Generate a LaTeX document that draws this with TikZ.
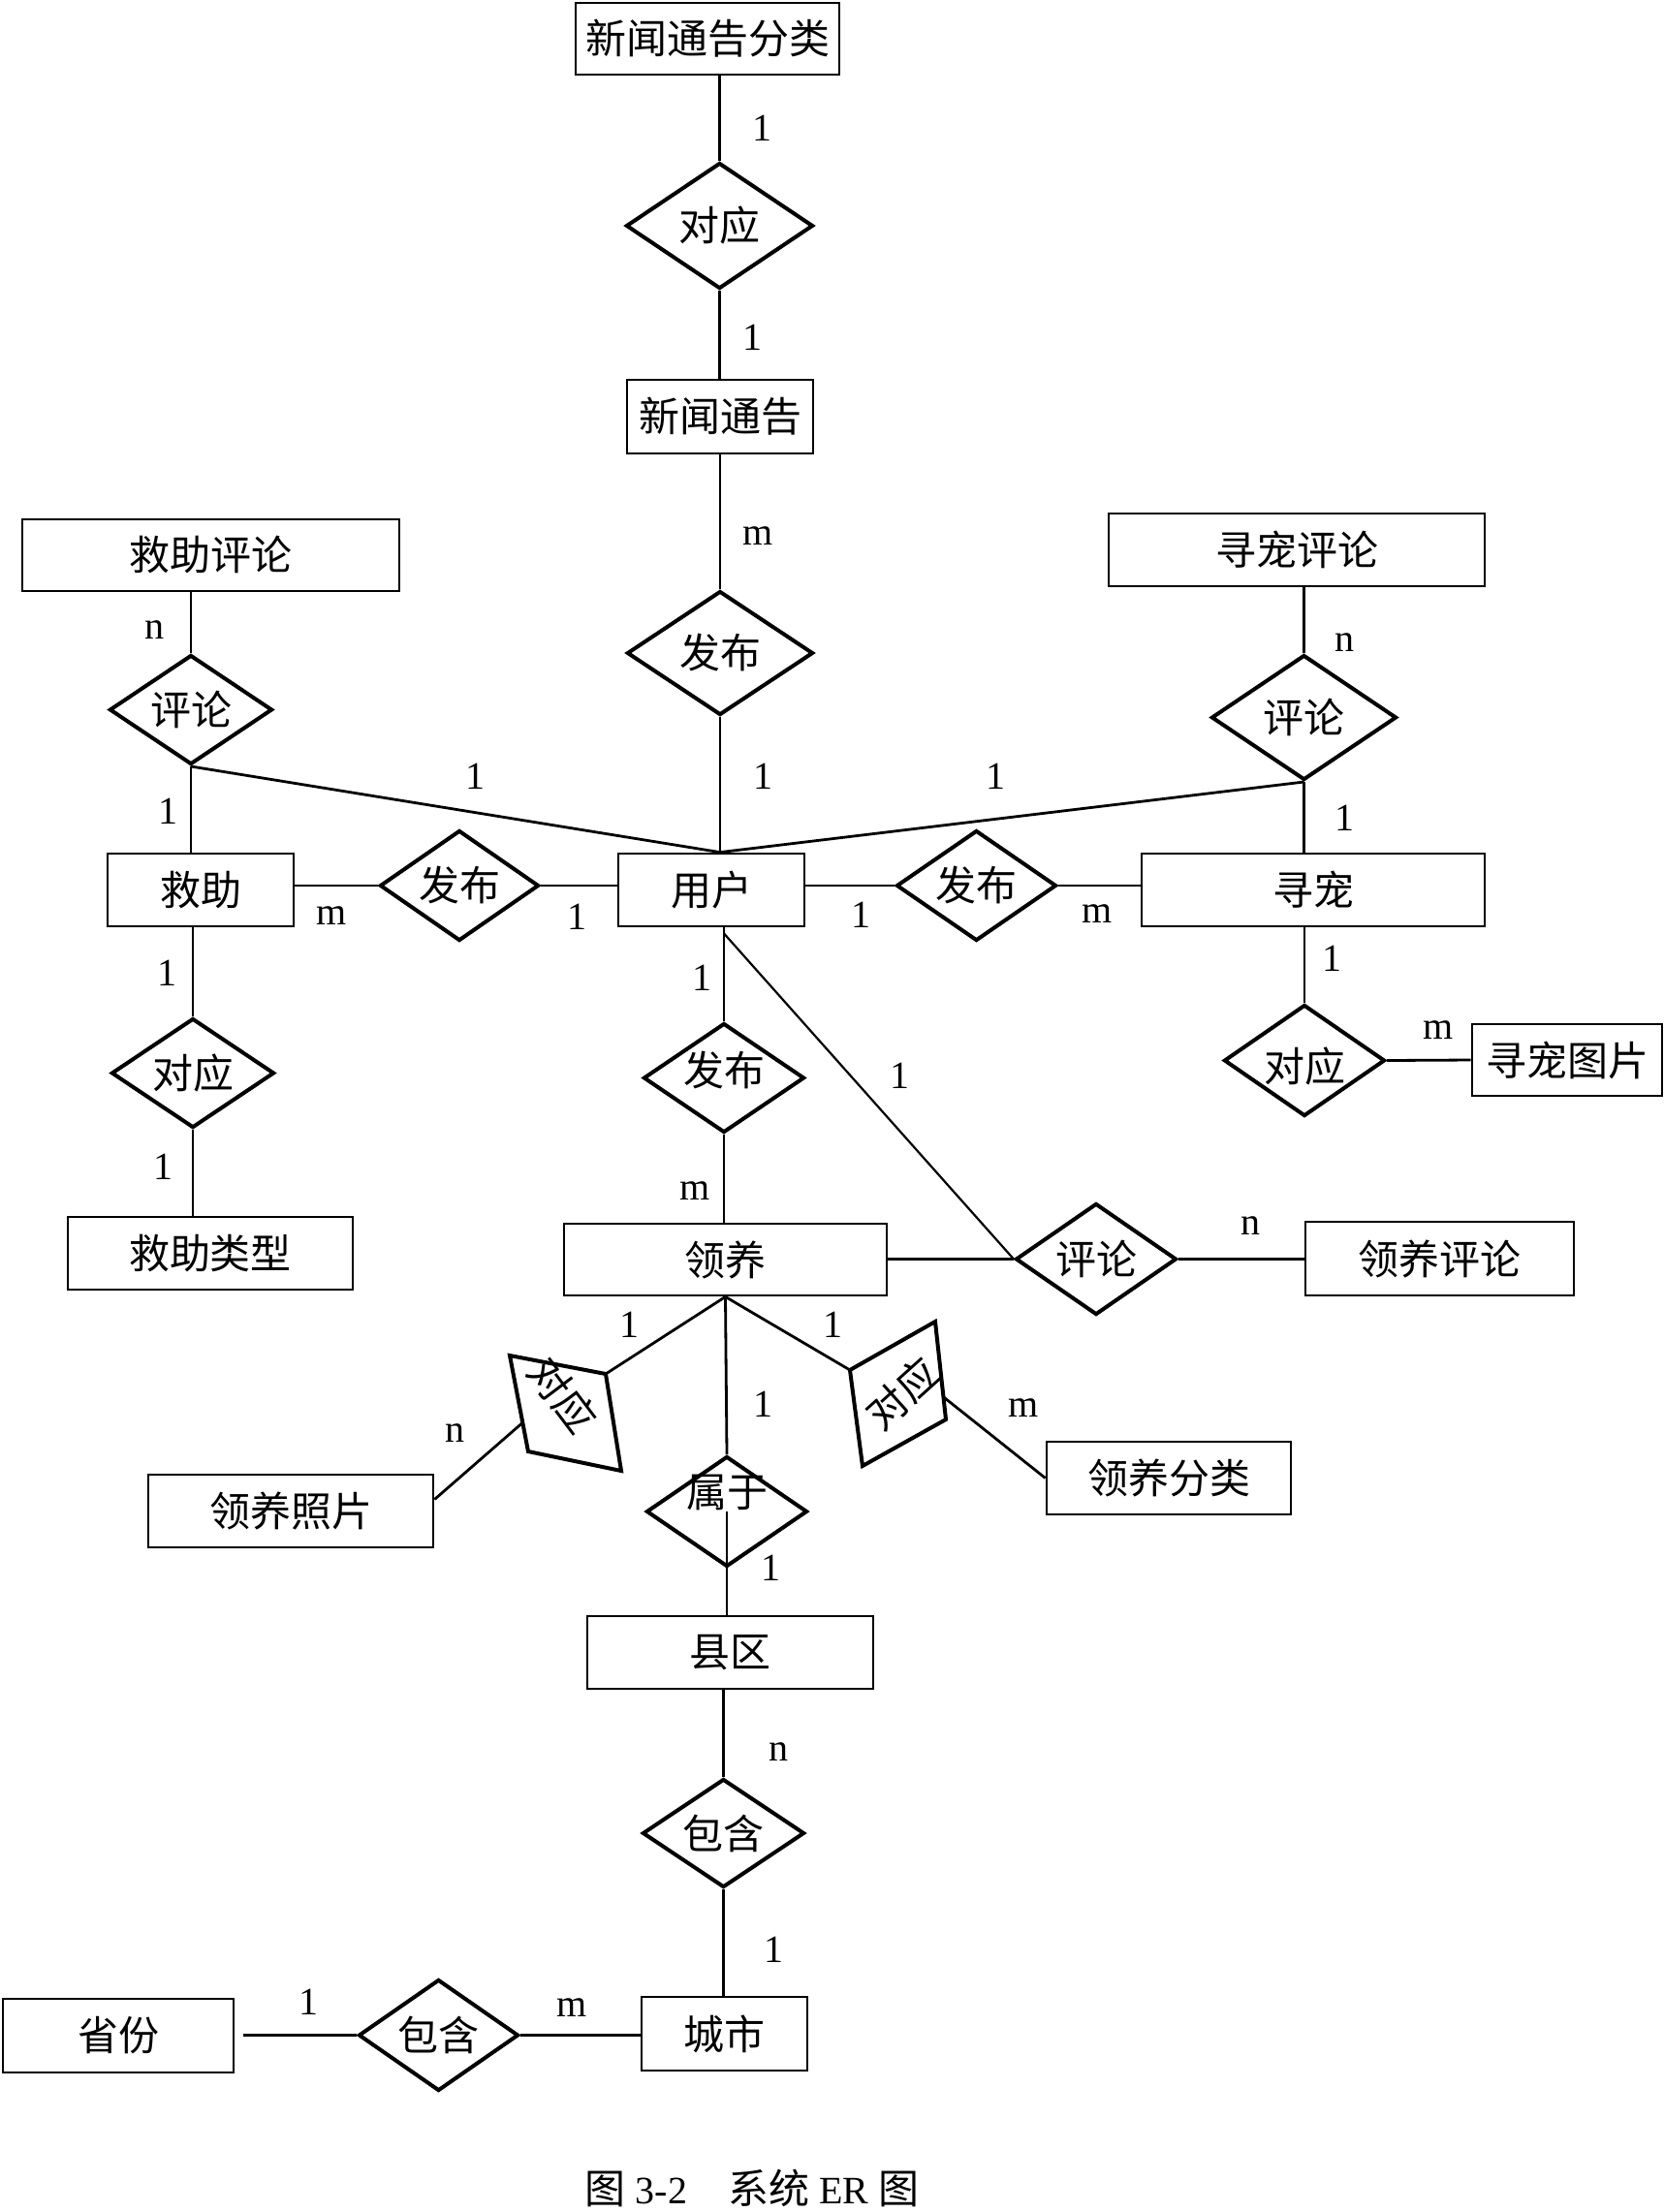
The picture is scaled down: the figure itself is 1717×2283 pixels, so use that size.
\documentclass[tikz,border=0pt]{standalone}
\usepackage{fontspec}
\setmainfont{Liberation Serif}
\newfontfamily\cjkfam{Noto Sans CJK SC}
\usetikzlibrary{shapes.geometric,calc}
\newcommand\cjkfont{\cjkfam\fontsize{21}{25}\selectfont}
\newcommand\latfont{\rmfamily\fontsize{20}{24}\selectfont}
\begin{document}
\begin{tikzpicture}[x=0.5pt,y=-0.5pt,
  ent/.style={draw,line width=1.4pt,inner sep=0pt,font=\cjkfont},
  rel/.style={draw,diamond,line width=2pt,inner sep=0pt},
  conn/.style={line width=1.4pt},
  thinconn/.style={line width=1.1pt},
  quad/.style={line width=2pt,line join=miter},
  card/.style={font=\latfont,inner sep=0pt},
  every label/.append style={font=\cjkfont}]
\useasboundingbox (0,0) rectangle (1717,2283);
\fill[white] (0,0) rectangle (1717,2283);

% entities
\node[ent,minimum width=136pt,minimum height=37pt] (nc) at (730,40) {新闻通告分类};
\node[ent,minimum width=96pt,minimum height=38pt] (ng) at (743,430) {新闻通告};
\node[ent,minimum width=194.5pt,minimum height=37pt] (jzpl) at (217.5,573) {救助评论};
\node[ent,minimum width=194pt,minimum height=37.5pt] (xcpl) at (1338,567.5) {寻宠评论};
\node[ent,minimum width=96pt,minimum height=37.5pt] (yh) at (734,918.5) {用户};
\node[ent,minimum width=96pt,minimum height=37.5pt] (jz) at (207,918.5) {救助};
\node[ent,minimum width=177pt,minimum height=37.5pt] (xc) at (1355,918.5) {寻宠};
\node[ent,minimum width=147pt,minimum height=37.5pt] (jzlx) at (217,1293.5) {救助类型};
\node[ent,minimum width=166.5pt,minimum height=37pt] (ly) at (748.5,1300) {领养};
\node[ent,minimum width=138.5pt,minimum height=38pt] (lypl) at (1485.5,1299) {领养评论};
\node[ent,minimum width=98pt,minimum height=37pt] (xctp) at (1617,1094) {寻宠图片};
\node[ent,minimum width=147pt,minimum height=37.5pt] (lyzp) at (300,1559.5) {领养照片};
\node[ent,minimum width=126pt,minimum height=37.5pt] (lyfl) at (1206,1525.5) {领养分类};
\node[ent,minimum width=147.5pt,minimum height=37.5pt] (xq) at (753.5,1705.5) {县区};
\node[ent,minimum width=85.5pt,minimum height=38pt] (cs) at (747.5,2099) {城市};
\node[ent,minimum width=119pt,minimum height=38pt] (sf) at (122,2101) {省份};

% relationships
\node[rel,minimum width=96.5pt,minimum height=65pt,label=center:{对应}] (d1) at (742.5,233) {};
\node[rel,minimum width=96pt,minimum height=64pt,label=center:{发布}] (d2) at (743,674) {};
\node[rel,minimum width=84pt,minimum height=56.5pt,label=center:{评论}] (d3) at (197,732.5) {};
\node[rel,minimum width=95.5pt,minimum height=64.5pt,label=center:{评论}] (d4) at (1345.5,740.5) {};
\node[rel,minimum width=82pt,minimum height=57pt,label=center:{发布}] (d5) at (474,914) {};
\node[rel,minimum width=82.5pt,minimum height=57pt,label=center:{发布}] (d6) at (1007.5,914) {};
\node[rel,minimum width=84pt,minimum height=56.5pt,label=center:{对应}] (d7) at (199,1107.5) {};
\node[rel,minimum width=83pt,minimum height=56.5pt,label={[yshift=4pt]center:{发布}}] (d8) at (747,1112.5) {};
\node[rel,minimum width=83pt,minimum height=57.5pt,label={[yshift=-3pt]center:{对应}}] (d9) at (1346,1094.5) {};
\node[rel,minimum width=83pt,minimum height=57.5pt,label=center:{评论}] (d10) at (1131,1299.5) {};
\node[rel,minimum width=83pt,minimum height=57pt,label={[yshift=10pt]center:{属于}}] (d11) at (750,1560) {};
\node[rel,minimum width=83.5pt,minimum height=56pt,label=center:{包含}] (d12) at (746.5,1892) {};
\node[rel,minimum width=82.5pt,minimum height=57.5pt,label=center:{包含}] (d13) at (452.5,2100.5) {};

% skewed relationship shapes
\coordinate (qa1) at (526,1399);
\coordinate (qa2) at (625,1418);
\coordinate (qa3) at (641,1518);
\coordinate (qa4) at (545,1498);
\draw[quad] (qa1) -- (qa2) -- (qa3) -- (qa4) -- cycle;
\node[font=\cjkfont,rotate=-53] (qat) at (581,1440) {对应};
\coordinate (qb1) at (877,1414);
\coordinate (qb2) at (965,1364);
\coordinate (qb3) at (976,1465);
\coordinate (qb4) at (890,1513);
\draw[quad] (qb1) -- (qb2) -- (qb3) -- (qb4) -- cycle;
\node[font=\cjkfont,rotate=42] (qbt) at (931,1438) {对应};

% connectors
\draw[conn] (d1.north) -- (d1.north |- nc.south);
\draw[conn] (d1.south) -- (d1.south |- ng.north);
\draw[conn] (d2.north) -- (d2.north |- ng.south);
\coordinate (yhtop) at (d2.south |- yh.north);
\draw[conn] (d2.south) -- (yhtop);
\draw[conn] (d3.north) -- (d3.north |- jzpl.south);
\draw[conn] (d3.south) -- (d3.south |- jz.north);
\draw[conn] (d3.south) -- (yhtop);
\draw[conn] (d4.south) -- (yhtop);
\draw[conn] (d4.north) -- (d4.north |- xcpl.south);
\draw[conn] (d4.south) -- (d4.south |- xc.north);
\draw[conn] (jz.east |- d5.west) -- (d5.west);
\draw[conn] (d5.east) -- (yh.west |- d5.east);
\draw[conn] (yh.east |- d6.west) -- (d6.west);
\draw[conn] (d6.east) -- (xc.west |- d6.east);
\draw[conn] (d7.north) -- (d7.north |- jz.south);
\draw[conn] (d7.south) -- (d7.south |- jzlx.north);
\coordinate (yhbot) at (d8.north |- yh.south);
\draw[conn] (d8.north) -- (yhbot);
\draw[conn] (d8.south) -- (d8.south |- ly.north);
\draw[thinconn] ($(yhbot)+(0,6)$) -- (d10.west);
\draw[conn] (d9.north) -- (d9.north |- xc.south);
\draw[conn] (d9.east) -- (xctp.west);
\draw[conn] (ly.east |- d10.west) -- (d10.west);
\draw[conn] (d10.east) -- (lypl.west |- d10.east);
\draw[conn] (ly.south) -- (qa2);
\draw[conn] (ly.south) -- (qb1);
\draw[conn] (ly.south) -- (d11.north);
\draw[conn] ($(lyzp.east)+(0,-12)$) -- ($(qa1)!0.7!(qa4)$);
\draw[conn] ($(qb2)!0.77!(qb3)$) -- (lyfl.west);
\draw[conn] (d11.center) -- (d11.center |- xq.north);
\draw[conn] (d12.north) -- (d12.north |- xq.south);
\draw[conn] (d12.south) -- (d12.south |- cs.north);
\draw[conn] ($(sf.east |- d13.west)+(9,0)$) -- (d13.west);
\draw[conn] (d13.east) -- (cs.west |- d13.east);

% cardinalities
\node[card] (c1) at (786,132) {1};
\node[card] (c2) at (776,348) {1};
\node[card] (c3) at (782,553) {m};
\node[card] (c4) at (159,650) {n};
\node[card] (c5) at (1387,663) {n};
\node[card] (c6) at (490,801) {1};
\node[card] (c7) at (787,801) {1};
\node[card] (c8) at (1027,801) {1};
\node[card] (c9) at (173,837) {1};
\node[card] (c10) at (1387,844) {1};
\node[card] (c11) at (342,945) {m};
\node[card] (c12) at (595,946) {1};
\node[card] (c13) at (888,944) {1};
\node[card] (c14) at (1132,943) {m};
\node[card] (c15) at (172,1004) {1};
\node[card] (c16) at (168,1204) {1};
\node[card] (c17) at (724,1009) {1};
\node[card] (c18) at (717,1229) {m};
\node[card] (c19) at (928,1110) {1};
\node[card] (c20) at (1374,989) {1};
\node[card] (c21) at (1484,1063) {m};
\node[card] (c22) at (1290,1265) {n};
\node[card] (c23) at (649,1367) {1};
\node[card] (c24) at (859,1367) {1};
\node[card] (c25) at (787,1449) {1};
\node[card] (c26) at (469,1479) {n};
\node[card] (c27) at (1056,1453) {m};
\node[card] (c28) at (795,1618) {1};
\node[card] (c29) at (803,1808) {n};
\node[card] (c30) at (798,2012) {1};
\node[card] (c31) at (318,2066) {1};
\node[card] (c32) at (590,2072) {m};

% caption
\node[font=\latfont,inner sep=0pt] (cap) at (776,2258) {{\cjkfont 图} 3-2{\cjkfont 　系统} ER {\cjkfont 图}};
\end{tikzpicture}
\end{document}
